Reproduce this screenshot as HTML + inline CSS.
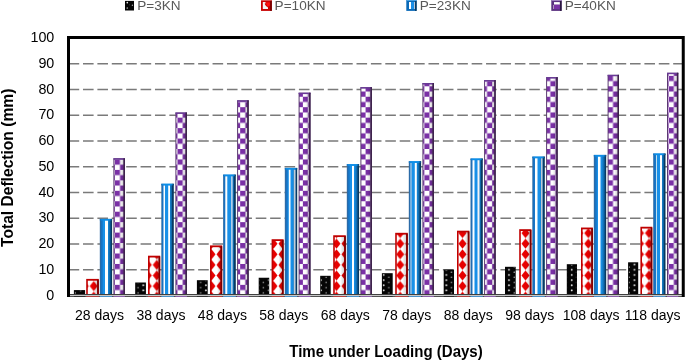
<!DOCTYPE html>
<html><head><meta charset="utf-8"><style>
html,body{margin:0;padding:0;background:#fff;overflow:hidden;}
svg{display:block;will-change:transform;}
text{font-family:"Liberation Sans",sans-serif;}
.tk{font-size:14px;fill:#000;}
.ty{font-size:14.3px;fill:#000;}
.ttl{font-size:16px;font-weight:bold;fill:#000;}
.ttl2{font-size:15.6px;font-weight:bold;fill:#000;}
.lg{font-size:13.6px;fill:#595959;}
</style></head><body>
<svg width="685" height="360" viewBox="0 0 685 360">
<defs><linearGradient id="gShadeR" x1="0" x2="1" y1="0" y2="0"><stop offset="0.6" stop-color="#000" stop-opacity="0"/><stop offset="1" stop-color="#000" stop-opacity="0.18"/></linearGradient>
<linearGradient id="gBlue" x1="0" x2="1" y1="0" y2="0">
  <stop offset="0" stop-color="#3070a8"/>
  <stop offset="0.07" stop-color="#2a6aa8"/>
  <stop offset="0.1" stop-color="#1870c0"/>
  <stop offset="0.2" stop-color="#1878c8"/>
  <stop offset="0.3" stop-color="#1890e8"/>
  <stop offset="0.6" stop-color="#1890e8"/>
  <stop offset="0.75" stop-color="#1478c0"/>
  <stop offset="0.86" stop-color="#0b5a98"/>
  <stop offset="0.89" stop-color="#083a62"/>
  <stop offset="1" stop-color="#083a62"/>
</linearGradient>
<linearGradient id="gBlueTop" x1="0" x2="1" y1="0" y2="0">
  <stop offset="0" stop-color="#1070c0"/>
  <stop offset="0.15" stop-color="#0c8ee8"/>
  <stop offset="0.8" stop-color="#0c8ee8"/>
  <stop offset="1" stop-color="#084070"/>
</linearGradient>
<pattern id="pBlk" patternUnits="userSpaceOnUse" x="0" y="0" width="10.45" height="5.15"><rect width="10.45" height="5.15" fill="#050505"/><circle cx="7.4" cy="2.0" r="0.95" fill="#eeeeee"/><circle cx="2.175" cy="4.5" r="0.75" fill="#9a9a9a"/></pattern><pattern id="pr0" patternUnits="userSpaceOnUse" x="-0.75" y="280.8" width="9" height="10.6"><rect width="9" height="10.6" fill="#ffffff"/><polygon points="4.5,0.3 8.5,5.3 4.5,10.3 0.5,5.3" fill="#e80000"/></pattern><pattern id="pp0" patternUnits="userSpaceOnUse" x="114.775" y="211.7" width="10.45" height="10.45"><rect width="10.45" height="10.45" fill="#ffffff"/><rect width="5.225" height="5.225" fill="#7a30a6"/><rect x="5.225" y="5.225" width="5.225" height="5.225" fill="#7a30a6"/></pattern><pattern id="pr1" patternUnits="userSpaceOnUse" x="-0.70" y="280.8" width="9" height="10.6"><rect width="9" height="10.6" fill="#ffffff"/><polygon points="4.5,0.3 8.5,5.3 4.5,10.3 0.5,5.3" fill="#e80000"/></pattern><pattern id="pp1" patternUnits="userSpaceOnUse" x="114.775" y="211.7" width="10.45" height="10.45"><rect width="10.45" height="10.45" fill="#ffffff"/><rect width="5.225" height="5.225" fill="#7a30a6"/><rect x="5.225" y="5.225" width="5.225" height="5.225" fill="#7a30a6"/></pattern><pattern id="pr2" patternUnits="userSpaceOnUse" x="0.00" y="280.8" width="9" height="10.6"><rect width="9" height="10.6" fill="#ffffff"/><polygon points="4.5,0.3 8.5,5.3 4.5,10.3 0.5,5.3" fill="#e80000"/></pattern><pattern id="pp2" patternUnits="userSpaceOnUse" x="114.775" y="211.7" width="10.45" height="10.45"><rect width="10.45" height="10.45" fill="#ffffff"/><rect width="5.225" height="5.225" fill="#7a30a6"/><rect x="5.225" y="5.225" width="5.225" height="5.225" fill="#7a30a6"/></pattern><pattern id="pr3" patternUnits="userSpaceOnUse" x="-1.00" y="280.8" width="9" height="10.6"><rect width="9" height="10.6" fill="#ffffff"/><polygon points="4.5,0.3 8.5,5.3 4.5,10.3 0.5,5.3" fill="#e80000"/></pattern><pattern id="pp3" patternUnits="userSpaceOnUse" x="114.775" y="211.7" width="10.45" height="10.45"><rect width="10.45" height="10.45" fill="#ffffff"/><rect width="5.225" height="5.225" fill="#7a30a6"/><rect x="5.225" y="5.225" width="5.225" height="5.225" fill="#7a30a6"/></pattern><pattern id="pr4" patternUnits="userSpaceOnUse" x="-1.00" y="280.8" width="9" height="10.6"><rect width="9" height="10.6" fill="#ffffff"/><polygon points="4.5,0.3 8.5,5.3 4.5,10.3 0.5,5.3" fill="#e80000"/></pattern><pattern id="pp4" patternUnits="userSpaceOnUse" x="114.775" y="211.7" width="10.45" height="10.45"><rect width="10.45" height="10.45" fill="#ffffff"/><rect width="5.225" height="5.225" fill="#7a30a6"/><rect x="5.225" y="5.225" width="5.225" height="5.225" fill="#7a30a6"/></pattern><pattern id="pr5" patternUnits="userSpaceOnUse" x="-0.30" y="280.8" width="9" height="10.6"><rect width="9" height="10.6" fill="#ffffff"/><polygon points="4.5,0.3 8.5,5.3 4.5,10.3 0.5,5.3" fill="#e80000"/></pattern><pattern id="pp5" patternUnits="userSpaceOnUse" x="115.975" y="211.7" width="10.45" height="10.45"><rect width="10.45" height="10.45" fill="#ffffff"/><rect width="5.225" height="5.225" fill="#7a30a6"/><rect x="5.225" y="5.225" width="5.225" height="5.225" fill="#7a30a6"/></pattern><pattern id="pr6" patternUnits="userSpaceOnUse" x="-1.00" y="280.8" width="9" height="10.6"><rect width="9" height="10.6" fill="#ffffff"/><polygon points="4.5,0.3 8.5,5.3 4.5,10.3 0.5,5.3" fill="#e80000"/></pattern><pattern id="pp6" patternUnits="userSpaceOnUse" x="116.025" y="211.7" width="10.45" height="10.45"><rect width="10.45" height="10.45" fill="#ffffff"/><rect width="5.225" height="5.225" fill="#7a30a6"/><rect x="5.225" y="5.225" width="5.225" height="5.225" fill="#7a30a6"/></pattern><pattern id="pr7" patternUnits="userSpaceOnUse" x="-1.00" y="280.8" width="9" height="10.6"><rect width="9" height="10.6" fill="#ffffff"/><polygon points="4.5,0.3 8.5,5.3 4.5,10.3 0.5,5.3" fill="#e80000"/></pattern><pattern id="pp7" patternUnits="userSpaceOnUse" x="116.625" y="211.7" width="10.45" height="10.45"><rect width="10.45" height="10.45" fill="#ffffff"/><rect width="5.225" height="5.225" fill="#7a30a6"/><rect x="5.225" y="5.225" width="5.225" height="5.225" fill="#7a30a6"/></pattern><pattern id="pr8" patternUnits="userSpaceOnUse" x="-1.25" y="280.8" width="9" height="10.6"><rect width="9" height="10.6" fill="#ffffff"/><polygon points="4.5,0.3 8.5,5.3 4.5,10.3 0.5,5.3" fill="#e80000"/></pattern><pattern id="pp8" patternUnits="userSpaceOnUse" x="116.625" y="211.7" width="10.45" height="10.45"><rect width="10.45" height="10.45" fill="#ffffff"/><rect width="5.225" height="5.225" fill="#7a30a6"/><rect x="5.225" y="5.225" width="5.225" height="5.225" fill="#7a30a6"/></pattern><pattern id="pr9" patternUnits="userSpaceOnUse" x="-3.50" y="280.8" width="9" height="10.6"><rect width="9" height="10.6" fill="#ffffff"/><polygon points="4.5,0.3 8.5,5.3 4.5,10.3 0.5,5.3" fill="#e80000"/></pattern><pattern id="pp9" patternUnits="userSpaceOnUse" x="114.775" y="211.7" width="10.45" height="10.45"><rect width="10.45" height="10.45" fill="#ffffff"/><rect width="5.225" height="5.225" fill="#7a30a6"/><rect x="5.225" y="5.225" width="5.225" height="5.225" fill="#7a30a6"/></pattern></defs>
<line x1="68.6" y1="269.75" x2="682" y2="269.75" stroke="#7a7a7a" stroke-width="1.35" stroke-dasharray="10.6 3.795"/>
<line x1="68.6" y1="244.00" x2="682" y2="244.00" stroke="#7a7a7a" stroke-width="1.35" stroke-dasharray="10.6 3.795"/>
<line x1="68.6" y1="218.25" x2="682" y2="218.25" stroke="#7a7a7a" stroke-width="1.35" stroke-dasharray="10.6 3.795"/>
<line x1="68.6" y1="192.50" x2="682" y2="192.50" stroke="#7a7a7a" stroke-width="1.35" stroke-dasharray="10.6 3.795"/>
<line x1="68.6" y1="166.75" x2="682" y2="166.75" stroke="#7a7a7a" stroke-width="1.35" stroke-dasharray="10.6 3.795"/>
<line x1="68.6" y1="141.00" x2="682" y2="141.00" stroke="#7a7a7a" stroke-width="1.35" stroke-dasharray="10.6 3.795"/>
<line x1="68.6" y1="115.25" x2="682" y2="115.25" stroke="#7a7a7a" stroke-width="1.35" stroke-dasharray="10.6 3.795"/>
<line x1="68.6" y1="89.50" x2="682" y2="89.50" stroke="#7a7a7a" stroke-width="1.35" stroke-dasharray="10.6 3.795"/>
<line x1="68.6" y1="63.75" x2="682" y2="63.75" stroke="#7a7a7a" stroke-width="1.35" stroke-dasharray="10.6 3.795"/>
<rect x="73.90" y="290.10" width="11.20" height="4.40" fill="#050505"/><rect x="74.60" y="290.80" width="9.80" height="3.70" fill="url(#pBlk)"/>
<rect x="86.20" y="278.90" width="12.60" height="15.60" fill="#c00000"/><rect x="87.80" y="280.70" width="9.40" height="13.80" fill="url(#pr0)"/><rect x="87.80" y="280.70" width="9.40" height="13.80" fill="url(#gShadeR)"/><rect x="97.20" y="279.70" width="1.6" height="14.80" fill="#7a0000"/>
<rect x="99.80" y="218.90" width="12.30" height="75.60" fill="url(#gBlue)"/><rect x="105.00" y="220.50" width="3.00" height="74.00" fill="#ffffff"/><rect x="99.80" y="218.90" width="12.30" height="1.6" fill="url(#gBlueTop)"/>
<rect x="113.40" y="158.26" width="11.50" height="136.24" fill="#5a3a70"/><rect x="114.40" y="159.26" width="9.10" height="135.24" fill="url(#pp0)"/><rect x="114.40" y="159.26" width="9.10" height="135.24" fill="url(#gShadeR)"/><rect x="113.40" y="158.26" width="11.50" height="1.4" fill="#6a3a98"/><rect x="123.50" y="158.26" width="1.4" height="136.24" fill="#3a2048"/>
<rect x="135.20" y="282.50" width="10.70" height="12.00" fill="#050505"/><rect x="135.90" y="283.20" width="9.30" height="11.30" fill="url(#pBlk)"/>
<rect x="148.00" y="255.70" width="12.20" height="38.80" fill="#c00000"/><rect x="149.60" y="257.50" width="9.00" height="37.00" fill="url(#pr1)"/><rect x="149.60" y="257.50" width="9.00" height="37.00" fill="url(#gShadeR)"/><rect x="158.60" y="256.50" width="1.6" height="38.00" fill="#7a0000"/>
<rect x="161.30" y="183.75" width="12.50" height="110.75" fill="url(#gBlue)"/><rect x="163.50" y="185.35" width="1.50" height="109.15" fill="#ffffff"/><rect x="168.20" y="185.35" width="1.80" height="109.15" fill="#ffffff"/><rect x="161.30" y="183.75" width="12.50" height="1.6" fill="url(#gBlueTop)"/>
<rect x="175.40" y="112.50" width="11.50" height="182.00" fill="#5a3a70"/><rect x="176.40" y="113.50" width="9.10" height="181.00" fill="url(#pp1)"/><rect x="176.40" y="113.50" width="9.10" height="181.00" fill="url(#gShadeR)"/><rect x="175.40" y="112.50" width="11.50" height="1.4" fill="#6a3a98"/><rect x="185.50" y="112.50" width="1.4" height="182.00" fill="#3a2048"/>
<rect x="196.90" y="280.21" width="10.80" height="14.29" fill="#050505"/><rect x="197.60" y="280.91" width="9.40" height="13.59" fill="url(#pBlk)"/>
<rect x="210.00" y="245.40" width="12.20" height="49.10" fill="#c00000"/><rect x="211.60" y="247.20" width="9.00" height="47.30" fill="url(#pr2)"/><rect x="211.60" y="247.20" width="9.00" height="47.30" fill="url(#gShadeR)"/><rect x="220.60" y="246.20" width="1.6" height="48.30" fill="#7a0000"/>
<rect x="223.10" y="174.61" width="12.70" height="119.89" fill="url(#gBlue)"/><rect x="225.30" y="176.21" width="2.00" height="118.29" fill="#ffffff"/><rect x="231.30" y="176.21" width="1.20" height="118.29" fill="#f4eef0"/><rect x="223.10" y="174.61" width="12.70" height="1.6" fill="url(#gBlueTop)"/>
<rect x="237.10" y="100.32" width="11.60" height="194.18" fill="#5a3a70"/><rect x="238.10" y="101.32" width="9.20" height="193.18" fill="url(#pp2)"/><rect x="238.10" y="101.32" width="9.20" height="193.18" fill="url(#gShadeR)"/><rect x="237.10" y="100.32" width="11.60" height="1.4" fill="#6a3a98"/><rect x="247.30" y="100.32" width="1.4" height="194.18" fill="#3a2048"/>
<rect x="258.70" y="277.74" width="10.50" height="16.76" fill="#050505"/><rect x="259.40" y="278.44" width="9.10" height="16.06" fill="url(#pBlk)"/>
<rect x="271.60" y="239.22" width="12.00" height="55.28" fill="#c00000"/><rect x="273.20" y="241.02" width="8.80" height="53.48" fill="url(#pr3)"/><rect x="273.20" y="241.02" width="8.80" height="53.48" fill="url(#gShadeR)"/><rect x="282.00" y="240.02" width="1.6" height="54.48" fill="#7a0000"/>
<rect x="284.80" y="167.92" width="12.40" height="126.58" fill="url(#gBlue)"/><rect x="288.80" y="169.52" width="1.70" height="124.98" fill="#ffffff"/><rect x="293.80" y="169.52" width="1.70" height="124.98" fill="#c4ccd4"/><rect x="284.80" y="167.92" width="12.40" height="1.6" fill="url(#gBlueTop)"/>
<rect x="298.60" y="92.70" width="11.90" height="201.80" fill="#5a3a70"/><rect x="299.60" y="93.70" width="9.50" height="200.80" fill="url(#pp3)"/><rect x="299.60" y="93.70" width="9.50" height="200.80" fill="url(#gShadeR)"/><rect x="298.60" y="92.70" width="11.90" height="1.4" fill="#6a3a98"/><rect x="309.10" y="92.70" width="1.4" height="201.80" fill="#3a2048"/>
<rect x="320.20" y="275.81" width="10.50" height="18.69" fill="#050505"/><rect x="320.90" y="276.51" width="9.10" height="17.99" fill="url(#pBlk)"/>
<rect x="333.20" y="235.25" width="12.60" height="59.25" fill="#c00000"/><rect x="334.80" y="237.05" width="9.40" height="57.45" fill="url(#pr4)"/><rect x="334.80" y="237.05" width="9.40" height="57.45" fill="url(#gShadeR)"/><rect x="344.20" y="236.05" width="1.6" height="58.45" fill="#7a0000"/>
<rect x="346.80" y="164.18" width="12.30" height="130.32" fill="url(#gBlue)"/><rect x="352.00" y="165.78" width="2.00" height="128.72" fill="#ffffff"/><rect x="346.80" y="164.18" width="12.30" height="1.6" fill="url(#gBlueTop)"/>
<rect x="360.40" y="87.19" width="11.50" height="207.31" fill="#5a3a70"/><rect x="361.40" y="88.19" width="9.10" height="206.31" fill="url(#pp4)"/><rect x="361.40" y="88.19" width="9.10" height="206.31" fill="url(#gShadeR)"/><rect x="360.40" y="87.19" width="11.50" height="1.4" fill="#6a3a98"/><rect x="370.50" y="87.19" width="1.4" height="207.31" fill="#3a2048"/>
<rect x="381.90" y="273.21" width="10.80" height="21.29" fill="#050505"/><rect x="382.60" y="273.91" width="9.40" height="20.59" fill="url(#pBlk)"/>
<rect x="395.20" y="232.81" width="12.60" height="61.69" fill="#c00000"/><rect x="396.80" y="234.61" width="9.40" height="59.89" fill="url(#pr5)"/><rect x="396.80" y="234.61" width="9.40" height="59.89" fill="url(#gShadeR)"/><rect x="406.20" y="233.61" width="1.6" height="60.89" fill="#7a0000"/>
<rect x="408.80" y="161.22" width="12.30" height="133.28" fill="url(#gBlue)"/><rect x="410.50" y="162.82" width="1.00" height="131.68" fill="#d0e8f8"/><rect x="414.80" y="162.82" width="2.00" height="131.68" fill="#ffffff"/><rect x="408.80" y="161.22" width="12.30" height="1.6" fill="url(#gBlueTop)"/>
<rect x="422.40" y="83.07" width="11.50" height="211.43" fill="#5a3a70"/><rect x="423.40" y="84.07" width="9.10" height="210.43" fill="url(#pp5)"/><rect x="423.40" y="84.07" width="9.10" height="210.43" fill="url(#gShadeR)"/><rect x="422.40" y="83.07" width="11.50" height="1.4" fill="#6a3a98"/><rect x="432.50" y="83.07" width="1.4" height="211.43" fill="#3a2048"/>
<rect x="443.70" y="269.60" width="10.30" height="24.90" fill="#050505"/><rect x="444.40" y="270.30" width="8.90" height="24.20" fill="url(#pBlk)"/>
<rect x="457.00" y="230.69" width="12.40" height="63.81" fill="#c00000"/><rect x="458.60" y="232.49" width="9.20" height="62.01" fill="url(#pr6)"/><rect x="458.60" y="232.49" width="9.20" height="62.01" fill="url(#gShadeR)"/><rect x="467.80" y="231.49" width="1.6" height="63.01" fill="#7a0000"/>
<rect x="470.50" y="158.52" width="12.30" height="135.98" fill="url(#gBlue)"/><rect x="472.50" y="160.12" width="2.00" height="134.38" fill="#ffffff"/><rect x="477.50" y="160.12" width="2.00" height="134.38" fill="#f4f4f8"/><rect x="470.50" y="158.52" width="12.30" height="1.6" fill="url(#gBlueTop)"/>
<rect x="484.10" y="80.11" width="11.60" height="214.39" fill="#5a3a70"/><rect x="485.10" y="81.11" width="9.20" height="213.39" fill="url(#pp6)"/><rect x="485.10" y="81.11" width="9.20" height="213.39" fill="url(#gShadeR)"/><rect x="484.10" y="80.11" width="11.60" height="1.4" fill="#6a3a98"/><rect x="494.30" y="80.11" width="1.4" height="214.39" fill="#3a2048"/>
<rect x="505.00" y="266.80" width="10.70" height="27.70" fill="#050505"/><rect x="505.70" y="267.50" width="9.30" height="27.00" fill="url(#pBlk)"/>
<rect x="519.20" y="229.20" width="12.20" height="65.30" fill="#c00000"/><rect x="520.80" y="231.00" width="9.00" height="63.50" fill="url(#pr7)"/><rect x="520.80" y="231.00" width="9.00" height="63.50" fill="url(#gShadeR)"/><rect x="529.80" y="230.00" width="1.6" height="64.50" fill="#7a0000"/>
<rect x="532.30" y="156.59" width="12.50" height="137.91" fill="url(#gBlue)"/><rect x="535.00" y="158.19" width="2.50" height="136.31" fill="#ffffff"/><rect x="541.00" y="158.19" width="1.50" height="136.31" fill="#c0c8d0"/><rect x="532.30" y="156.59" width="12.50" height="1.6" fill="url(#gBlueTop)"/>
<rect x="546.10" y="77.15" width="11.60" height="217.35" fill="#5a3a70"/><rect x="547.10" y="78.15" width="9.20" height="216.35" fill="url(#pp7)"/><rect x="547.10" y="78.15" width="9.20" height="216.35" fill="url(#gShadeR)"/><rect x="546.10" y="77.15" width="11.60" height="1.4" fill="#6a3a98"/><rect x="556.30" y="77.15" width="1.4" height="217.35" fill="#3a2048"/>
<rect x="566.80" y="264.20" width="10.20" height="30.30" fill="#050505"/><rect x="567.50" y="264.90" width="8.80" height="29.60" fill="url(#pBlk)"/>
<rect x="581.00" y="227.53" width="11.90" height="66.97" fill="#c00000"/><rect x="582.60" y="229.33" width="8.70" height="65.17" fill="url(#pr8)"/><rect x="582.60" y="229.33" width="8.70" height="65.17" fill="url(#gShadeR)"/><rect x="591.30" y="228.33" width="1.6" height="66.17" fill="#7a0000"/>
<rect x="593.80" y="154.91" width="12.40" height="139.59" fill="url(#gBlue)"/><rect x="598.00" y="156.51" width="2.50" height="137.99" fill="#ffffff"/><rect x="593.80" y="154.91" width="12.40" height="1.6" fill="url(#gBlueTop)"/>
<rect x="607.60" y="74.83" width="11.40" height="219.67" fill="#5a3a70"/><rect x="608.60" y="75.83" width="9.00" height="218.67" fill="url(#pp8)"/><rect x="608.60" y="75.83" width="9.00" height="218.67" fill="url(#gShadeR)"/><rect x="607.60" y="74.83" width="11.40" height="1.4" fill="#6a3a98"/><rect x="617.60" y="74.83" width="1.4" height="219.67" fill="#3a2048"/>
<rect x="628.10" y="262.29" width="10.10" height="32.21" fill="#050505"/><rect x="628.80" y="262.99" width="8.70" height="31.51" fill="url(#pBlk)"/>
<rect x="640.40" y="226.75" width="11.90" height="67.75" fill="#c00000"/><rect x="642.00" y="228.56" width="8.70" height="65.95" fill="url(#pr9)"/><rect x="642.00" y="228.56" width="8.70" height="65.95" fill="url(#gShadeR)"/><rect x="650.70" y="227.56" width="1.6" height="66.95" fill="#7a0000"/>
<rect x="653.20" y="153.50" width="12.30" height="141.00" fill="url(#gBlue)"/><rect x="656.00" y="155.10" width="1.00" height="139.40" fill="#c0e0f0"/><rect x="660.00" y="155.10" width="2.00" height="139.40" fill="#ffffff"/><rect x="653.20" y="153.50" width="12.30" height="1.6" fill="url(#gBlueTop)"/>
<rect x="667.00" y="72.77" width="11.30" height="221.73" fill="#5a3a70"/><rect x="668.00" y="73.77" width="8.90" height="220.73" fill="url(#pp9)"/><rect x="668.00" y="73.77" width="8.90" height="220.73" fill="url(#gShadeR)"/><rect x="667.00" y="72.77" width="11.30" height="1.4" fill="#6a3a98"/><rect x="676.90" y="72.77" width="1.4" height="221.73" fill="#3a2048"/>
<rect x="68" y="294" width="615" height="1" fill="#404040"/>
<rect x="68" y="295" width="615" height="1" fill="#c8c8c8"/>
<rect x="68" y="296" width="615" height="1" fill="#505050"/>
<rect x="73.90" y="296" width="11.20" height="1" fill="#303030"/>
<rect x="86.20" y="296" width="12.60" height="1" fill="#b04040"/>
<rect x="99.80" y="296" width="12.30" height="1" fill="#4a90c8"/>
<rect x="113.40" y="296" width="11.50" height="1" fill="#8a60a8"/>
<rect x="135.20" y="296" width="10.70" height="1" fill="#303030"/>
<rect x="148.00" y="296" width="12.20" height="1" fill="#b04040"/>
<rect x="161.30" y="296" width="12.50" height="1" fill="#4a90c8"/>
<rect x="175.40" y="296" width="11.50" height="1" fill="#8a60a8"/>
<rect x="196.90" y="296" width="10.80" height="1" fill="#303030"/>
<rect x="210.00" y="296" width="12.20" height="1" fill="#b04040"/>
<rect x="223.10" y="296" width="12.70" height="1" fill="#4a90c8"/>
<rect x="237.10" y="296" width="11.60" height="1" fill="#8a60a8"/>
<rect x="258.70" y="296" width="10.50" height="1" fill="#303030"/>
<rect x="271.60" y="296" width="12.00" height="1" fill="#b04040"/>
<rect x="284.80" y="296" width="12.40" height="1" fill="#4a90c8"/>
<rect x="298.60" y="296" width="11.90" height="1" fill="#8a60a8"/>
<rect x="320.20" y="296" width="10.50" height="1" fill="#303030"/>
<rect x="333.20" y="296" width="12.60" height="1" fill="#b04040"/>
<rect x="346.80" y="296" width="12.30" height="1" fill="#4a90c8"/>
<rect x="360.40" y="296" width="11.50" height="1" fill="#8a60a8"/>
<rect x="381.90" y="296" width="10.80" height="1" fill="#303030"/>
<rect x="395.20" y="296" width="12.60" height="1" fill="#b04040"/>
<rect x="408.80" y="296" width="12.30" height="1" fill="#4a90c8"/>
<rect x="422.40" y="296" width="11.50" height="1" fill="#8a60a8"/>
<rect x="443.70" y="296" width="10.30" height="1" fill="#303030"/>
<rect x="457.00" y="296" width="12.40" height="1" fill="#b04040"/>
<rect x="470.50" y="296" width="12.30" height="1" fill="#4a90c8"/>
<rect x="484.10" y="296" width="11.60" height="1" fill="#8a60a8"/>
<rect x="505.00" y="296" width="10.70" height="1" fill="#303030"/>
<rect x="519.20" y="296" width="12.20" height="1" fill="#b04040"/>
<rect x="532.30" y="296" width="12.50" height="1" fill="#4a90c8"/>
<rect x="546.10" y="296" width="11.60" height="1" fill="#8a60a8"/>
<rect x="566.80" y="296" width="10.20" height="1" fill="#303030"/>
<rect x="581.00" y="296" width="11.90" height="1" fill="#b04040"/>
<rect x="593.80" y="296" width="12.40" height="1" fill="#4a90c8"/>
<rect x="607.60" y="296" width="11.40" height="1" fill="#8a60a8"/>
<rect x="628.10" y="296" width="10.10" height="1" fill="#303030"/>
<rect x="640.40" y="296" width="11.90" height="1" fill="#b04040"/>
<rect x="653.20" y="296" width="12.30" height="1" fill="#4a90c8"/>
<rect x="667.00" y="296" width="11.30" height="1" fill="#8a60a8"/>
<path d="M68.5,297 L68.5,37.5 L683.25,37.5 L683.25,297" fill="none" stroke="#000" stroke-width="3"/>
<text x="54.3" y="299.65" text-anchor="end" class="ty">0</text>
<text x="54.3" y="273.90" text-anchor="end" class="ty">10</text>
<text x="54.3" y="248.15" text-anchor="end" class="ty">20</text>
<text x="54.3" y="222.40" text-anchor="end" class="ty">30</text>
<text x="54.3" y="196.65" text-anchor="end" class="ty">40</text>
<text x="54.3" y="170.90" text-anchor="end" class="ty">50</text>
<text x="54.3" y="145.15" text-anchor="end" class="ty">60</text>
<text x="54.3" y="119.40" text-anchor="end" class="ty">70</text>
<text x="54.3" y="93.65" text-anchor="end" class="ty">80</text>
<text x="54.3" y="67.90" text-anchor="end" class="ty">90</text>
<text x="54.3" y="42.15" text-anchor="end" class="ty">100</text>
<text x="99.45" y="320" text-anchor="middle" class="tk">28 days</text>
<text x="160.92" y="320" text-anchor="middle" class="tk">38 days</text>
<text x="222.39" y="320" text-anchor="middle" class="tk">48 days</text>
<text x="283.86" y="320" text-anchor="middle" class="tk">58 days</text>
<text x="345.33" y="320" text-anchor="middle" class="tk">68 days</text>
<text x="406.80" y="320" text-anchor="middle" class="tk">78 days</text>
<text x="468.27" y="320" text-anchor="middle" class="tk">88 days</text>
<text x="529.74" y="320" text-anchor="middle" class="tk">98 days</text>
<text x="591.21" y="320" text-anchor="middle" class="tk">108 days</text>
<text x="652.68" y="320" text-anchor="middle" class="tk">118 days</text>
<text transform="translate(386,356.8) scale(0.94,1)" text-anchor="middle" class="ttl">Time under Loading (Days)</text>
<text transform="translate(12.6,167.8) rotate(-90)" text-anchor="middle" class="ttl2">Total Deflection (mm)</text>
<rect x="125" y="0.9" width="9" height="9.6" fill="#050505"/><circle cx="127.3" cy="2.6" r="0.85" fill="#e8e8e8"/><circle cx="127.3" cy="8" r="0.85" fill="#a0a0a0"/><circle cx="132.4" cy="5.2" r="0.7" fill="#b0b0b0"/><circle cx="129.6" cy="4.8" r="0.5" fill="#404040"/>
<rect x="261" y="0" width="10.8" height="10.9" fill="#c80000"/><rect x="261" y="0" width="10.8" height="0.9" fill="#e06060"/><rect x="270.2" y="0.9" width="1.6" height="10" fill="#700000"/><polygon points="262.8,2 265.6,2 265.6,3.2 264.6,3.8 266,6 268,7.6 268,9 262.8,9" fill="#f4f4f4"/><polygon points="265.6,2.4 269.8,2.2 269.8,5.5 267.5,7" fill="#ff1010"/>
<rect x="406.3" y="0" width="10.3" height="10.9" fill="#0a6ab8"/><rect x="406.3" y="0" width="10.3" height="1" fill="#4aa0e0"/><rect x="409" y="2" width="2.1" height="7" fill="#ffffff"/><rect x="411.1" y="2" width="2.9" height="7" fill="#1a90e8"/><rect x="414" y="2" width="1" height="7" fill="#b8c8d8"/><rect x="415" y="1" width="1.6" height="9.9" fill="#083a62"/>
<rect x="551.3" y="0" width="10.3" height="10.9" fill="#5a3080"/><rect x="551.3" y="0" width="10.3" height="1" fill="#a080c0"/><rect x="554" y="2.1" width="5.8" height="2.6" fill="#ffffff"/><rect x="554" y="4.7" width="5.8" height="4.4" fill="#7a30a6"/><rect x="553.2" y="5" width="0.8" height="4" fill="#c0b0c8"/><rect x="560" y="1" width="1.6" height="9.9" fill="#2a1840"/>
<text x="137.2" y="9.9" class="lg">P=3KN</text>
<text x="274.6" y="9.9" class="lg">P=10KN</text>
<text x="419.8" y="9.9" class="lg">P=23KN</text>
<text x="564.8" y="9.9" class="lg">P=40KN</text>
</svg>
</body></html>
